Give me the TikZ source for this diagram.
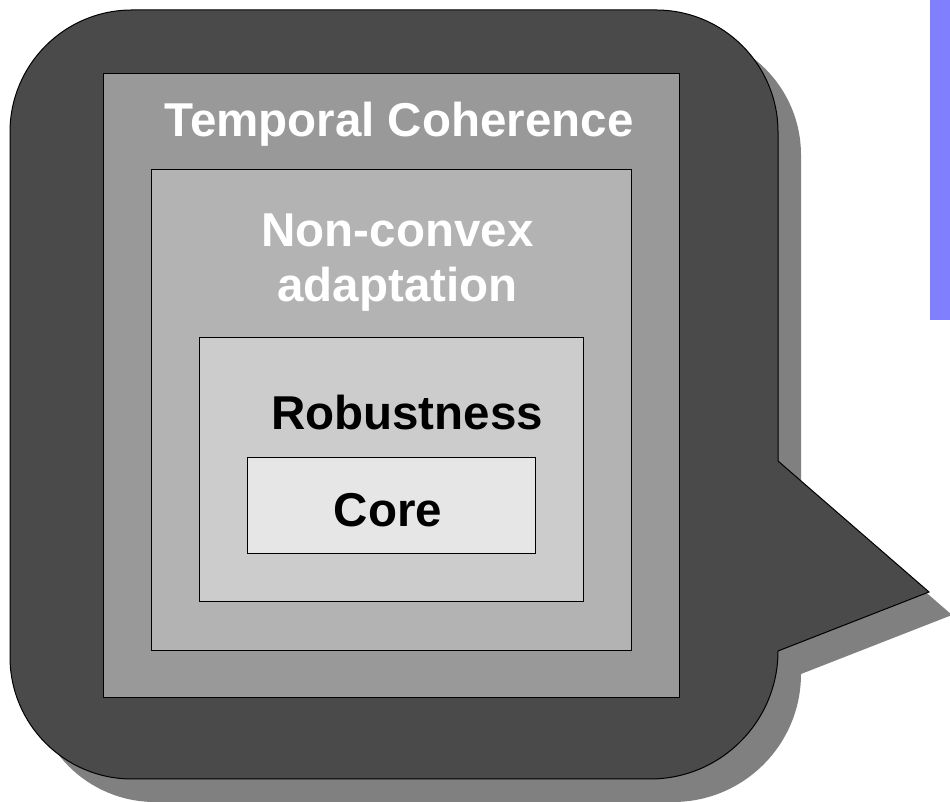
\documentclass[tikz,border=0pt]{standalone}
\usepackage{fontspec}
\setmainfont{Liberation Sans}
\definecolor{calloutfill}{HTML}{4A4A4A}
\definecolor{shadowgray}{HTML}{808080}
\definecolor{levelA}{HTML}{999999}
\definecolor{levelB}{HTML}{B3B3B3}
\definecolor{levelC}{HTML}{CCCCCC}
\definecolor{levelD}{HTML}{E6E6E6}
\definecolor{sidebar}{HTML}{8080FF}
\begin{document}
\begin{tikzpicture}[x=1pt,y=1pt,
  layer/.style={draw=black, line width=1pt, inner sep=0pt, outer sep=0pt, anchor=south west},
  label/.style={font=\fontsize{47.5}{55}\selectfont\bfseries, inner sep=0pt, anchor=base, align=center}]
  \useasboundingbox (0,0) rectangle (950,802);
  % speech-bubble outline with a pointer on the right
  \def\bubble{(132,792) -- (656,792) arc[start angle=90, end angle=0, radius=122]
    -- (778,341) -- (929,210) -- (778,151) arc[start angle=0, end angle=-90, radius=128]
    -- (132,23) arc[start angle=270, end angle=180, radius=122]
    -- (10,670) arc[start angle=180, end angle=90, radius=122] -- cycle}
  \fill[shadowgray, shift={(23,-23)}] \bubble;
  \draw[fill=calloutfill, line width=1pt] \bubble;
  % side bar
  \fill[sidebar] (930,482) rectangle (950,802);
  % nested levels
  \node[layer, fill=levelA, minimum width=576pt, minimum height=624pt] (temporal) at (103,104) {};
  \node[layer, fill=levelB, minimum width=480pt, minimum height=481pt] (nonconvex) at (151,151) {};
  \node[layer, fill=levelC, minimum width=384pt, minimum height=264pt] (robust) at (199,200) {};
  \node[layer, fill=levelD, minimum width=288pt, minimum height=96pt] (core) at (247,248) {};
  % level captions
  \node[label, text=white] (tlabel) at (399,665) {Temporal Coherence};
  \node[label, text=white] (nlabel) at (397.5,500) {Non-convex\\adaptation};
  \node[label, text=black] (rlabel) at (407,372) {Robustness};
  \node[label, text=black] (clabel) at (388,275) {Core};
\end{tikzpicture}
\end{document}
